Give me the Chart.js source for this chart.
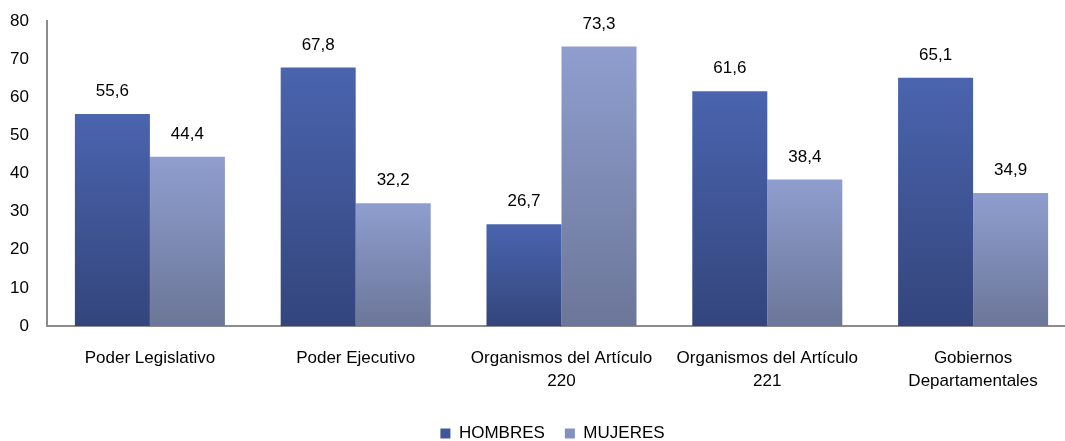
<!DOCTYPE html>
<html><head><meta charset="utf-8">
<script src="https://cdn.jsdelivr.net/npm/chart.js@4/dist/chart.umd.min.js"></script>
<style>html,body{margin:0;padding:0;background:#fff;}#wrap{width:1065px;height:441px;}</style>
</head><body><div id="wrap"><canvas id="c" width="1065" height="441"></canvas></div>
<script>
const categories = ["Poder Legislativo", "Poder Ejecutivo", ["Organismos del Artículo", "220"], ["Organismos del Artículo", "221"], ["Gobiernos", "Departamentales"]];
const hombres = [55.6, 67.8, 26.7, 61.6, 65.1];
const mujeres = [44.4, 32.2, 73.3, 38.4, 34.9];
const yTicks = [0, 10, 20, 30, 40, 50, 60, 70, 80];

const FONT = "'Liberation Sans', Arial, sans-serif";

function barGradient(top, bottom) {
  return function (ctx) {
    const chart = ctx.chart;
    if (!chart.chartArea || ctx.type !== 'data') return top;
    const y = chart.scales.y;
    const v = ctx.raw;
    const y0 = y.getPixelForValue(v);
    const y1 = y.getPixelForValue(0);
    const g = chart.ctx.createLinearGradient(0, y0, 0, y1);
    g.addColorStop(0, top);
    g.addColorStop(1, bottom);
    return g;
  };
}

const valueLabels = {
  id: 'valueLabels',
  afterDatasetsDraw(chart) {
    const ctx = chart.ctx;
    ctx.save();
    ctx.font = "17px " + FONT;
    ctx.fillStyle = '#000';
    ctx.textAlign = 'center';
    ctx.textBaseline = 'bottom';
    chart.data.datasets.forEach((ds, i) => {
      chart.getDatasetMeta(i).data.forEach((bar, j) => {
        ctx.fillText(String(ds.data[j]).replace('.', ','), bar.x, bar.y - 14);
      });
    });
    ctx.restore();
  }
};

// reference plot extends its category band slightly past the right edge of the image
const layoutTweak = {
  id: 'layoutTweak',
  afterLayout(chart) {
    const l = chart.legend;
    if (l) { l.left += 21; l.right += 21; }
    const x = chart.scales.x;
    x.right = 1076;
    x.width = x.right - x.left;
    x.configure();
  }
};

new Chart(document.getElementById('c'), {
  type: 'bar',
  data: {
    labels: categories,
    datasets: [
      { label: 'HOMBRES', data: hombres, backgroundColor: barGradient('#4a64ae', '#33457c'), borderWidth: 0 },
      { label: 'MUJERES', data: mujeres, backgroundColor: barGradient('#8f9ecf', '#6b7698'), borderWidth: 0 }
    ]
  },
  options: {
    responsive: false,
    animation: false,
    devicePixelRatio: 1,
    layout: { padding: { top: 21, right: 2, left: 0, bottom: -11 } },
    datasets: { bar: { categoryPercentage: 0.729, barPercentage: 1.0 } },
    plugins: {
      legend: {
        position: 'bottom',
        labels: {
          font: { family: FONT, size: 17 },
          color: '#000',
          boxWidth: 10,
          boxHeight: 10,
          padding: 20,
          generateLabels(chart) {
            return chart.data.datasets.map((ds, i) => ({
              text: ds.label,
              fillStyle: i === 0 ? '#3f569a' : '#8391c0',
              strokeStyle: 'rgba(0,0,0,0)',
              lineWidth: 0,
              datasetIndex: i,
              fontColor: '#000'
            }));
          }
        }
      },
      tooltip: { enabled: false }
    },
    scales: {
      x: {
        grid: { display: false, drawTicks: false },
        border: { display: true, color: '#8c8c8c', width: 2 },
        ticks: { font: { family: FONT, size: 17, lineHeight: 1.4 }, color: '#000', padding: 20, maxRotation: 0, autoSkip: false },
        afterFit(s) { s.height = 79; s.paddingLeft = 0; s.paddingRight = 0; }
      },
      y: {
        min: 0, max: 80,
        afterBuildTicks(s) { s.ticks = yTicks.map(v => ({ value: v })); },
        grid: { display: false, drawTicks: false },
        border: { display: true, color: '#8c8c8c', width: 2 },
        ticks: { font: { family: FONT, size: 17 }, color: '#000', padding: 18 },
        afterFit(s) { s.width = 47; s.paddingTop = 10; s.paddingBottom = 10; }
      }
    }
  },
  plugins: [valueLabels, layoutTweak]
});
</script>
</body></html>
